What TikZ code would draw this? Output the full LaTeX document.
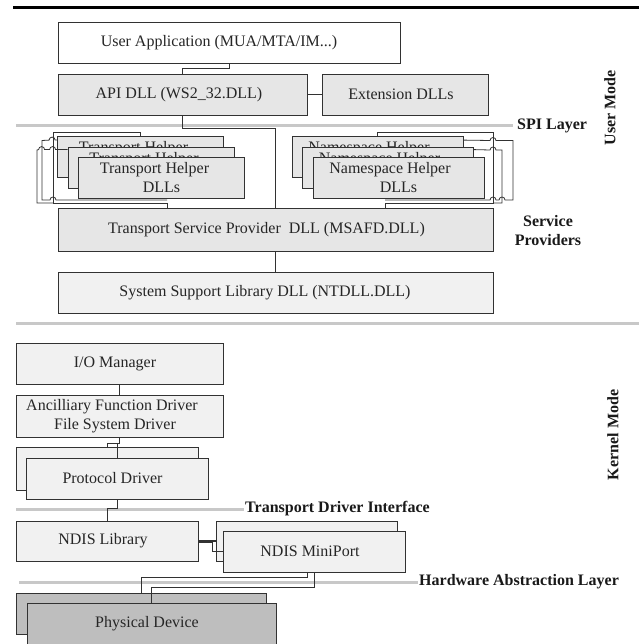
\documentclass[tikz,border=0pt]{standalone}
\usepackage{fontspec}
\setmainfont{Liberation Serif}
\definecolor{boxfill}{RGB}{230,230,230}
\definecolor{palefill}{RGB}{241,241,241}
\definecolor{devfill}{RGB}{190,190,190}
\definecolor{layergray}{RGB}{200,200,200}
\definecolor{edge}{RGB}{50,50,50}

\begin{document}
\begin{tikzpicture}[x=1pt, y=-1pt,
  nudge/.style={execute at begin node={\hspace*{#1}}},
  box/.style={draw=edge, line width=0.8pt, fill=boxfill, text=black!85,
    font=\fontsize{16}{19}\selectfont, minimum height=41pt, inner sep=0pt, align=center},
  pale/.style={box, fill=palefill},
  device/.style={box, fill=devfill},
  wire/.style={draw=edge, line width=0.8pt},
  layer/.style={layergray, line width=3pt},
  lbl/.style={font=\fontsize{16}{19}\selectfont\bfseries, text=black!90, inner sep=1pt, align=center}]

	\clip (0,0) rectangle (639,644);
	\draw[line width=3pt] (13,8) -- (639,8);

	\node[box, fill=white, minimum width=342pt, nudge=-20pt] (app) at (229,42.5) {User Application (MUA/MTA/IM...)};
	\node[box, minimum width=249pt, nudge=-7pt] (api) at (182.5,94.5) {API DLL (WS2\_32.DLL)};
	\node[box, minimum width=166pt, nudge=-8pt] (ext) at (405,94.5) {Extension DLLs};

	\draw[layer] (16,126) -- (513,126);
	\node[lbl, anchor=west] (spi) at (516,126) {SPI Layer};
	\node[lbl, rotate=90] (umode) at (610,108) {User Mode};

	\node[box, minimum width=166pt] (th1) at (140.5,157) {Transport Helper\hspace*{14pt}\\DLLs};
	\node[box, minimum width=166pt] (th2) at (151,167.5) {Transport Helper\hspace*{14pt}\\DLLs};
	\node[box, minimum width=166pt] (th3) at (161.5,178) {Transport Helper\hspace*{14pt}\\DLLs};

	\node[box, minimum width=171pt] (nh1) at (377.5,157) {Namespace Helper\hspace*{17pt}\\DLLs};
	\node[box, minimum width=171pt] (nh2) at (388,167.5) {Namespace Helper\hspace*{17pt}\\DLLs};
	\node[box, minimum width=171pt] (nh3) at (398.5,178) {Namespace Helper\hspace*{17pt}\\DLLs};

	\node[box, minimum width=435pt, minimum height=43pt, nudge=-18pt] (tsp) at (275.5,229.5) {Transport Service Provider\ \ DLL (MSAFD.DLL)};
	\node[lbl] (sprov) at (548,231) {Service\\Providers};
	\node[pale, minimum width=435pt, nudge=-21pt] (ssl) at (275.5,292.5) {System Support Library DLL (NTDLL.DLL)};
	\coordinate (tjoin) at (167,208);
	\coordinate (njoin) at (385,208);

	\draw[wire] (app.south) -- ++(0,5) -| (api.north);
	\draw[wire] (api.east) -- (ext.west);
	\draw[wire] (api.south) -- ++(0,13) -| (tsp.north);

	\draw[wire] (th1.north) |- (53,132) -- (53,203) -| (tjoin);
	\draw[wire] ([yshift=-4pt]th1.north west) -- ++(-2,0) arc[start angle=0, end angle=180, radius=3pt]
		-- (42,140.5) -- (42,200) -- (50,200) arc[start angle=180, end angle=0, radius=3pt] -- (167,200);
	\draw[wire] ([yshift=-3pt]th2.north west) -- ++(-12,0) arc[start angle=0, end angle=180, radius=3pt]
		-- ++(-5,0) arc[start angle=0, end angle=180, radius=3pt] -- (37,150) -- (37,203) -- (53,203);

	\draw[wire] (nh1.north) |- (493,132) -- (493,203) -| (njoin);
	\draw[wire] ([yshift=-4pt]nh1.north east) -- (490,140.5) arc[start angle=180, end angle=0, radius=3pt]
		-- (513,140.5) -- (513,200) -- (505,200) arc[start angle=0, end angle=180, radius=3pt]
		-- (496,200) arc[start angle=0, end angle=180, radius=3pt] -- (385,200);
	\draw[wire] ([yshift=-3pt]nh2.north east) -- (490,150) arc[start angle=180, end angle=0, radius=3pt]
		-- (502,150) -- (502,203) -- (493,203);

	\draw[wire] (tsp.south) -- (ssl.north);

	\draw[layer] (16,323) -- (639,323);
	\node[lbl, rotate=90] (kmode) at (613,435) {Kernel Mode};

	\node[pale, minimum width=207pt, nudge=-9pt] (io) at (119.5,363.5) {I/O Manager};
	\node[pale, minimum width=207pt, minimum height=42pt] (afd) at (119.5,416) {Ancilliary Function Driver\hspace*{15pt}\\File System Driver\hspace*{9pt}};
	\node[pale, minimum width=182pt, minimum height=43pt] (pd1) at (107,468.5) {};
	\node[pale, minimum width=182pt, nudge=-10pt] (pd2) at (117.5,478.5) {Protocol Driver};

	\draw[layer] (16,509) -- (244,509);
	\node[lbl, anchor=west] (tdi) at (244,509) {Transport Driver Interface};

	\node[pale, minimum width=182pt, minimum height=40pt, nudge=-8pt] (ndis) at (107,541) {NDIS Library};
	\node[pale, minimum width=181pt, minimum height=40pt] (mp1) at (306.5,541) {};
	\node[pale, minimum width=182pt, nudge=-8pt] (mp2) at (314,551.5) {NDIS MiniPort};

	\draw[layer] (19,582) -- (418,582);
	\node[lbl, anchor=west] (hal) at (418,582) {Hardware Abstraction Layer};

	\node[device, minimum width=250pt] (dev1) at (141,613.5) {};
	\node[device, minimum width=249pt, minimum height=42pt, nudge=-9pt] (dev2) at (151.5,624) {Physical Device};

	\draw[wire] (io.south) -- (afd.north);
	\draw[wire] (afd.south) -- ++(0,6) -| (pd1.north);
	\draw[wire] (afd.south) -- ++(0,6) -| (pd2.north);
	\draw[wire] (pd2.south) -- ++(0,9) -| (ndis.north);
	\draw[line width=1.6pt, edge] (ndis.east) -- (mp1.west);
	\draw[wire] ([yshift=-1pt]ndis.east) -- ++(14,0) |- (mp2.west);
	\draw[wire] ([xshift=-7pt]mp2.south) -- ++(0,5) -| (dev1.north);
	\draw[wire] (mp2.south) -- ++(0,15) -| (dev2.north);

\end{tikzpicture}
\end{document}
